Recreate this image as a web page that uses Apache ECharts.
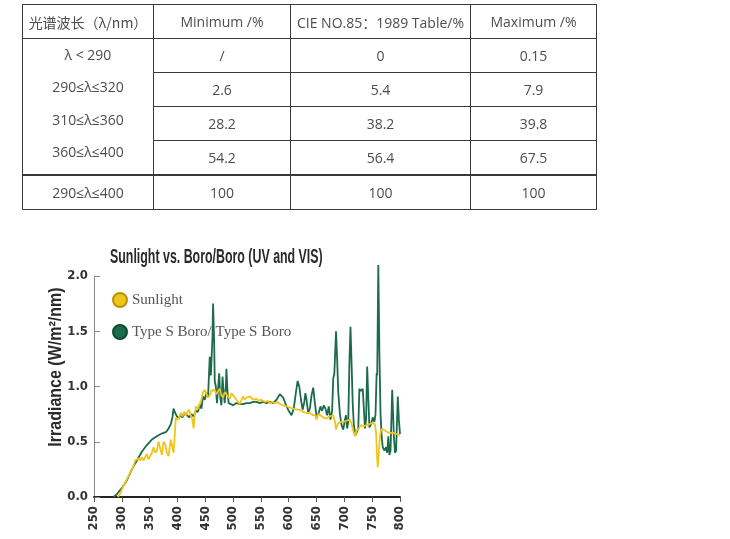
<!DOCTYPE html>
<html>
<head>
<meta charset="utf-8">
<script src="https://cdn.jsdelivr.net/npm/echarts@6/dist/echarts.min.js"></script>
<style>
html,body{margin:0;padding:0;background:#fff;width:730px;height:539px;overflow:hidden;}
#chart{position:absolute;left:0;top:0;width:730px;height:539px;}
#tbl{position:absolute;left:22px;top:4px;border-collapse:collapse;table-layout:fixed;z-index:2;
 font-family:"Open Sans","DejaVu Sans","Noto Sans CJK SC",sans-serif;font-size:14px;color:#4d4d4d;}
#tbl td{border:1px solid #3a3a3a;text-align:center;padding:0;height:33px;vertical-align:middle;white-space:nowrap;}
#tbl tr.last td{border-top:2px solid #3a3a3a;}
#tbl td.merged{vertical-align:top;line-height:32.3px;}
#tbl .cjk{font-family:"Noto Sans CJK SC",sans-serif;}
</style>
</head>
<body>
<div id="chart"></div>
<table id="tbl"></table>
<script>
// ---- table data ----
const tableHeader = ['光谱波长（λ/nm）', 'Minimum /%', 'CIE NO.85：1989 Table/%', 'Maximum /%'];
const tableRanges = ['λ < 290', '290≤λ≤320', '310≤λ≤360', '360≤λ≤400'];
const tableMin = ['/', '2.6', '28.2', '54.2'];
const tableCIE = ['0', '5.4', '38.2', '56.4'];
const tableMax = ['0.15', '7.9', '39.8', '67.5'];
const tableTotal = ['290≤λ≤400', '100', '100', '100'];

// ---- chart data ----
const chartTitle = 'Sunlight vs. Boro/Boro (UV and VIS)';
const yAxisName = 'Irradiance (W/m²/nm)';
const seriesNames = ['Sunlight', 'Type S Boro/ Type S Boro'];

const boroX = [285,290,300,309,318,327,336,345,354,363,370,375,380,384,388,391,393,396,399,402,405,409,413,417,421,425,429,433,437,440,443,446,449,452,455,457,458,460,461,463,464,466,467,469,471,473,475,477,479,481,483,485,487,488,490,492,496,500,506,512,518,524,530,536,542,548,554,560,566,572,578,584,590,596,600,605,609,613,616,619,622,625,628,630,632,635,638,641,644,647,650,654,657,660,663,666,669,672,675,678,680,682,685,687,689,692,695,698,701,703,705,707,709,711,713,715,717,720,722,725,727,730,733,735,737,739,741,743,745,748,751,754,756,758,759,761,763,765,767,769,772,775,777,779,781,783,786,789,791,793,796,798,800];
const boroY = [0,0.02,0.08,0.15,0.25,0.33,0.41,0.47,0.52,0.55,0.57,0.58,0.59,0.62,0.66,0.72,0.80,0.76,0.73,0.71,0.74,0.72,0.76,0.74,0.72,0.75,0.73,0.78,0.77,0.84,0.80,0.91,0.88,0.94,0.90,1.15,1.27,1.10,1.21,1.45,1.75,1.40,1.05,1.00,0.85,0.98,1.12,0.90,0.83,1.09,0.95,0.85,1.00,1.16,0.95,0.85,0.84,0.83,0.85,0.84,0.84,0.85,0.85,0.86,0.86,0.85,0.86,0.85,0.86,0.85,0.88,0.93,0.90,0.82,0.78,0.74,0.80,0.95,1.05,1.00,0.88,0.79,0.86,0.94,0.88,0.76,0.80,0.92,0.99,0.85,0.73,0.76,0.82,0.78,0.83,0.80,0.74,0.82,0.70,0.78,1.07,1.12,1.50,1.25,0.95,0.75,0.65,0.61,0.70,0.74,0.62,0.68,1.20,1.54,1.20,0.85,0.65,0.56,0.55,0.62,0.98,0.96,0.98,0.80,0.62,0.70,1.18,0.90,0.63,0.66,0.72,0.68,0.75,1.12,1.10,2.10,1.30,0.75,0.55,0.45,0.42,0.45,0.40,0.55,0.38,0.42,0.97,0.55,0.40,0.42,0.91,0.70,0.57];

const sunX = [293,297,303,309,315,321,324,327,330,333,336,339,342,345,348,351,354,357,360,363,366,369,372,375,378,381,384,386,388,391,393,395,397,400,403,406,409,412,415,418,421,424,427,429,431,433,437,440,443,446,449,452,455,458,461,464,467,470,473,476,479,482,485,488,491,494,497,500,503,506,509,512,515,518,521,524,527,530,534,538,542,546,550,554,558,562,566,570,575,580,585,590,596,602,608,614,620,626,632,638,644,648,650,653,657,662,668,674,680,683,685,688,692,698,704,710,713,716,719,722,726,730,735,740,745,750,755,757,759,760,762,764,766,770,776,782,788,794,800];
const sunY = [0,0.03,0.10,0.16,0.22,0.28,0.33,0.32,0.35,0.33,0.36,0.33,0.36,0.39,0.34,0.33,0.40,0.45,0.40,0.42,0.50,0.44,0.38,0.50,0.48,0.40,0.37,0.45,0.52,0.45,0.40,0.55,0.72,0.70,0.72,0.76,0.73,0.77,0.74,0.77,0.79,0.74,0.70,0.62,0.74,0.82,0.80,0.79,0.88,0.95,0.97,0.96,0.90,0.92,0.96,0.95,0.97,0.93,0.96,0.98,0.92,0.90,0.95,0.93,0.92,0.89,0.94,0.92,0.90,0.89,0.86,0.84,0.88,0.91,0.88,0.90,0.89,0.91,0.89,0.88,0.89,0.87,0.88,0.87,0.86,0.87,0.85,0.86,0.85,0.86,0.84,0.83,0.82,0.81,0.80,0.79,0.79,0.77,0.76,0.76,0.74,0.74,0.70,0.75,0.74,0.72,0.71,0.73,0.74,0.68,0.61,0.66,0.68,0.68,0.69,0.70,0.66,0.60,0.55,0.60,0.62,0.65,0.64,0.65,0.66,0.67,0.66,0.58,0.35,0.27,0.40,0.55,0.61,0.61,0.59,0.58,0.58,0.57,0.56];

const xTicks = {min: 250, max: 800, step: 50};
const yTicks = {min: 0, max: 2, step: 0.5};

// ---- build table ----
(function buildTable(){
  const t = document.getElementById('tbl');
  const colW = [131, 137, 180, 126];
  let html = '<colgroup>' + colW.map(w => '<col style="width:' + w + 'px">').join('') + '</colgroup>';
  html += '<tr>' + tableHeader.map((h, i) => '<td' + (i === 0 ? ' class="cjk"' : '') + '>' + h + '</td>').join('') + '</tr>';
  for (let i = 0; i < tableMin.length; i++) {
    html += '<tr>';
    if (i === 0) html += '<td class="merged" rowspan="' + tableRanges.length + '">' + tableRanges.join('<br>') + '</td>';
    html += '<td>' + tableMin[i] + '</td><td>' + tableCIE[i] + '</td><td>' + tableMax[i] + '</td></tr>';
  }
  html += '<tr class="last">' + tableTotal.map(v => '<td>' + v + '</td>').join('') + '</tr>';
  t.innerHTML = html;
})();

// ---- chart ----
const condensed = "'Liberation Sans Narrow','DejaVu Sans Condensed','Liberation Sans',sans-serif";
const boroData = boroX.map((x, i) => [x, boroY[i]]);
const sunData = sunX.map((x, i) => [x, sunY[i]]);
const sunColor = '#f0c419';
const boroColor = '#1c6b4b';

const chart = echarts.init(document.getElementById('chart'), null, {renderer: 'canvas'});
chart.setOption({
  animation: false,
  backgroundColor: '#fff',
  grid: {left: 94, right: 330, top: 276, bottom: 42, containLabel: false},
  legend: {
    data: [seriesNames[0], seriesNames[1]],
    orient: 'vertical', left: 112, top: 292,
    itemWidth: 14, itemHeight: 14, itemGap: 16, icon: 'circle', padding: 0,
    textStyle: {fontFamily: "'Liberation Serif','DejaVu Serif',serif", fontSize: 15, color: '#555'}
  },
  xAxis: {
    type: 'value', min: xTicks.min, max: xTicks.max, interval: xTicks.step,
    axisLine: {show: true, lineStyle: {color: '#222', width: 2}},
    axisTick: {show: true, length: 5, lineStyle: {color: '#555'}},
    axisLabel: {rotate: 90, margin: 9, fontSize: 13, fontWeight: 'bold', fontFamily: condensed, color: '#333'},
    splitLine: {show: false}
  },
  yAxis: {
    type: 'value', min: yTicks.min, max: yTicks.max, interval: yTicks.step,
    axisLine: {show: true, lineStyle: {color: '#888', width: 1}},
    axisTick: {show: true, inside: true, length: 6, lineStyle: {color: '#888'}},
    axisLabel: {margin: 6, fontSize: 13, fontWeight: 'bold', fontFamily: condensed, color: '#333',
      formatter: v => v.toFixed(1)},
    splitLine: {show: false}
  },
  graphic: [
    {type: 'text', x: 110, y: 257, scaleX: 0.59,
     style: {text: chartTitle, fontSize: 21, fontWeight: 'bold', fontFamily: "'Liberation Sans',sans-serif",
             fill: '#2a2a2a', align: 'left', verticalAlign: 'middle'}},
    {type: 'text', x: 56, y: 367, rotation: Math.PI / 2, scaleX: 0.89,
     style: {text: yAxisName, fontSize: 18, fontWeight: 'bold', fontFamily: "'Liberation Sans',sans-serif",
             fill: '#2a2a2a', align: 'center', verticalAlign: 'middle'}}
  ],
  series: [
    {name: seriesNames[1], type: 'line', data: boroData, showSymbol: false, symbol: 'circle', clip: false,
     lineStyle: {color: boroColor, width: 1.8}, itemStyle: {color: boroColor, borderColor: '#0f4a33', borderWidth: 1}, z: 2},
    {name: seriesNames[0], type: 'line', data: sunData, showSymbol: false, symbol: 'circle', clip: false,
     lineStyle: {color: sunColor, width: 1.8}, itemStyle: {color: sunColor, borderColor: '#b8940a', borderWidth: 1}, z: 3}
  ]
});
</script>
</body>
</html>
